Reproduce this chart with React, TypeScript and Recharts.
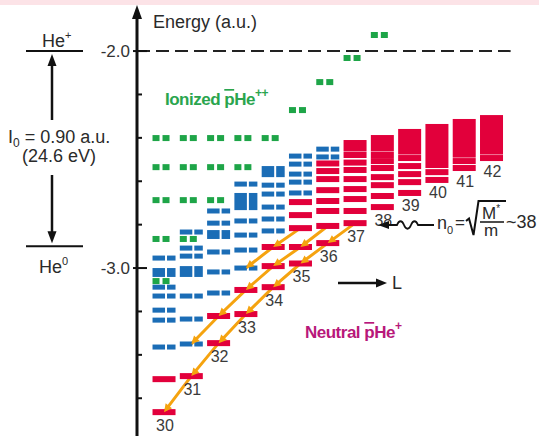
import React from "react";
import { ComposedChart, Scatter, Line, XAxis, YAxis, ReferenceLine } from "recharts";

// chart geometry (plot area starts right of the energy axis)
const W = 539;
const H = 436;
const AXIS_W = 137;
const PLOT_TOP = 12;
const E_MIN = -3.774;
const E_MAX = -1.82;
const N_MIN = 29.01;
const N_MAX = 43.74;
const PX_PER_E = (H - PLOT_TOP) / (E_MAX - E_MIN);
const PX_PER_N = (W - AXIS_W) / (N_MAX - N_MIN);
const yOf = (e: number) => PLOT_TOP + (E_MAX - e) * PX_PER_E;

const RED = "#e2003b";
const BLUE = "#1b6db6";
const GREEN = "#1ea548";
const ORANGE = "#f5a30f";
const INK = "#2a2a2a";
const FONT = "'Liberation Sans', Arial, sans-serif";

type Lv = { n: number; e: number };
const lv = (n: number, ...es: number[]): Lv[] => es.map((e) => ({ n, e }));

// energy axis
const energyTicks = [-2.0, -2.2, -2.4, -2.6, -2.8, -3.0, -3.2, -3.4, -3.6];
const HE_PLUS = -2.0;
const HE_ZERO = -2.9;

// lowest (labelled) state of each column
const circular: Lv[] = [
  { n: 30, e: -3.664 }, { n: 31, e: -3.498 }, { n: 32, e: -3.346 },
  { n: 33, e: -3.212 }, { n: 34, e: -3.088 }, { n: 35, e: -2.979 },
  { n: 36, e: -2.885 }, { n: 37, e: -2.793 }, { n: 38, e: -2.719 },
  { n: 39, e: -2.654 }, { n: 40, e: -2.594 }, { n: 41, e: -2.539 },
  { n: 42, e: -2.493 },
];

// other metastable (neutral) states
const neutral: Lv[] = [
  ...lv(30, -3.512),
  ...lv(32, -3.221),
  ...lv(33, -3.101),
  ...lv(34, -2.991, -2.903),
  ...lv(35, -2.903, -2.816, -2.756, -2.696),
  ...lv(36, -2.806, -2.737, -2.691, -2.641, -2.59, -2.553, -2.518),
  ...lv(37, -2.737, -2.682, -2.636, -2.59, -2.548, -2.514, -2.479),
  ...lv(38, -2.668, -2.618, -2.581, -2.539, -2.507, -2.479),
  ...lv(39, -2.604, -2.567, -2.53, -2.493),
  ...lv(40, -2.558),
  ...lv(41, -2.507),
];

// dense groups drawn as blocks
const neutralBands = [
  { n: 37, top: -2.41, bottom: -2.463 },
  { n: 38, top: -2.387, bottom: -2.463 },
  { n: 39, top: -2.359, bottom: -2.477 },
  { n: 40, top: -2.336, bottom: -2.539 },
  { n: 41, top: -2.313, bottom: -2.491 },
  { n: 42, top: -2.295, bottom: -2.477 },
];

// short-lived (Auger) states
const shortLived: Lv[] = [
  ...lv(30, -2.954, -3.088, -3.129, -3.194, -3.24, -3.364),
  ...lv(31, -2.834, -2.908, -2.945, -3.129, -3.235, -3.35),
  ...lv(32, -2.737, -2.793, -2.926, -3.018, -3.115),
  ...lv(33, -2.613, -2.783, -2.848, -2.917, -3.0),
  ...lv(34, -2.618, -2.659, -2.719, -2.774, -2.829),
  ...lv(35, -2.484, -2.521, -2.567, -2.604, -2.654),
  ...lv(36, -2.452, -2.488),
];

const shortBands = [
  { n: 30, top: -3.0, bottom: -3.041 },
  { n: 31, top: -2.991, bottom: -3.041 },
  { n: 32, top: -2.825, bottom: -2.866 },
  { n: 33, top: -2.654, bottom: -2.733 },
  { n: 34, top: -2.53, bottom: -2.581 },
];

// ionized pHe++ states
const ionized: Lv[] = [
  ...lv(30, -2.401, -2.535, -2.687, -2.866, -3.06),
  ...lv(31, -2.401, -2.535, -2.687, -2.866),
  ...lv(32, -2.401, -2.535, -2.687),
  ...lv(33, -2.401, -2.535),
  ...lv(34, -2.401),
  ...lv(35, -2.272),
  ...lv(36, -2.143),
  ...lv(37, -2.032),
  ...lv(38, -1.926),
];

// radiative cascades (lowest point first)
const cascadeV0: Lv[] = [
  { n: 30, e: -3.664 }, { n: 31, e: -3.498 }, { n: 32, e: -3.346 },
  { n: 33, e: -3.212 }, { n: 34, e: -3.088 }, { n: 35, e: -2.979 },
  { n: 36, e: -2.885 }, { n: 37, e: -2.793 },
];
const cascadeV1: Lv[] = [
  { n: 31, e: -3.35 }, { n: 32, e: -3.221 }, { n: 33, e: -3.101 },
  { n: 34, e: -2.991 }, { n: 35, e: -2.903 }, { n: 36, e: -2.806 },
];
const cascadeV2: Lv[] = [
  { n: 33, e: -3.0 }, { n: 34, e: -2.903 }, { n: 35, e: -2.816 },
];

const withMid = (b: { n: number; top: number; bottom: number }) => ({ ...b, e: (b.top + b.bottom) / 2 });

// ---- shapes ----
const NeutralBar = ({ cx = 0, cy = 0 }: any) => (
  <rect x={cx - 11.5} y={cy - 3} width={23} height={6} fill={RED} />
);

const CircularBar = ({ cx = 0, cy = 0, payload }: any) => (
  <g>
    <rect x={cx - 11.5} y={cy - 3} width={23} height={6} fill={RED} />
    <text x={cx + 1} y={cy + 18.5} textAnchor="middle" fontSize={16} fill="#3a3a3a" fontFamily={FONT}>
      {payload.n}
    </text>
  </g>
);

const ShortBar = ({ cx = 0, cy = 0 }: any) => (
  <g fill={BLUE}>
    <rect x={cx - 11.5} y={cy - 2.5} width={12.5} height={5} />
    <rect x={cx + 3} y={cy - 2.5} width={8.5} height={5} />
  </g>
);

const NeutralBand = ({ cx = 0, cy = 0, payload }: any) => {
  const h = (payload.top - payload.bottom) * PX_PER_E;
  return <rect x={cx - 11.5} y={cy - h / 2} width={23} height={h} fill={RED} />;
};

const ShortBand = ({ cx = 0, cy = 0, payload }: any) => {
  const h = (payload.top - payload.bottom) * PX_PER_E;
  return (
    <g fill={BLUE}>
      <rect x={cx - 11.5} y={cy - h / 2} width={12.5} height={h} />
      <rect x={cx + 3} y={cy - h / 2} width={8.5} height={h} />
    </g>
  );
};

const IonPair = ({ cx = 0, cy = 0 }: any) => (
  <g fill={GREEN}>
    <rect x={cx - 11.5} y={cy - 3} width={7} height={6} />
    <rect x={cx - 1.5} y={cy - 3} width={7} height={6} />
  </g>
);

// arrowhead at every lower end of a cascade step
const decayArrow = (chain: Lv[], tag: string) => (props: any) => {
  const { cx, cy, index } = props;
  const up = chain[index + 1];
  if (!up || cx == null) return <g key={`${tag}-${index}`} />;
  const cur = chain[index];
  const dx = (cur.n - up.n) * PX_PER_N;
  const dy = (up.e - cur.e) * PX_PER_E;
  const a = (Math.atan2(dy, dx) * 180) / Math.PI;
  return (
    <path
      key={`${tag}-${index}`}
      d="M0,0 L-8,-4 L-8,4 Z"
      transform={`translate(${cx},${cy}) rotate(${a})`}
      fill={ORANGE}
    />
  );
};

const EnergyTick = ({ x, y, payload }: any) => {
  const v = payload.value as number;
  const major = Math.abs(v - Math.round(v)) < 1e-6;
  return (
    <g>
      <line x1={major ? x - 4 : x} x2={x + (major ? 10 : 5)} y1={y} y2={y} stroke="#111" strokeWidth={2} />
      {major && (
        <text x={x - 7} y={y + 6} textAnchor="end" fontSize={17} fill="#333" fontFamily={FONT}>
          {v.toFixed(1)}
        </text>
      )}
    </g>
  );
};

function Annotations() {
  const yHp = yOf(HE_PLUS);
  const yH0 = yOf(HE_ZERO);
  return (
    <svg
      width={W}
      height={H}
      style={{ position: "absolute", left: 0, top: 0, pointerEvents: "none" }}
      fontFamily={FONT}
    >
      <rect x={0} y={0} width={W} height={5} fill="#fce3e7" />
      <path d="M137,5 L132,19 L142,19 Z" fill="#111" />
      <text x={153} y={28} fontSize={18} fill={INK}>Energy (a.u.)</text>

      {/* helium atom ionization */}
      <line x1={26} x2={83} y1={yHp} y2={yHp} stroke="#111" strokeWidth={2} />
      <line x1={26} x2={83} y1={yH0} y2={yH0} stroke="#111" strokeWidth={2} />
      <text x={42} y={47} fontSize={18} fill={INK}>
        He<tspan dy={-8} fontSize={11}>+</tspan>
      </text>
      <text x={39} y={273} fontSize={18} fill={INK}>
        He<tspan dy={-8} fontSize={11}>0</tspan>
      </text>
      <line x1={52} x2={52} y1={120} y2={yHp + 12} stroke="#111" strokeWidth={2.5} />
      <path d={`M52,${yHp + 3} L47.5,${yHp + 15} L56.5,${yHp + 15} Z`} fill="#111" />
      <line x1={52} x2={52} y1={175} y2={yH0 - 12} stroke="#111" strokeWidth={2.5} />
      <path d={`M52,${yH0 - 3} L47.5,${yH0 - 15} L56.5,${yH0 - 15} Z`} fill="#111" />
      <text x={8} y={143} fontSize={18} fill={INK}>
        I<tspan dy={4} fontSize={12}>0</tspan>
        <tspan dy={-4}> = 0.90 a.u.</tspan>
      </text>
      <text x={59} y={162} fontSize={18} fill={INK} textAnchor="middle">(24.6 eV)</text>

      {/* series names */}
      <text x={165} y={105} fontSize={17} fontWeight="bold" fill="#2aa54e" letterSpacing={-0.5}>
        Ionized <tspan style={{ textDecoration: "overline" }}>p</tspan>He
        <tspan dy={-8} fontSize={12}>++</tspan>
      </text>
      <text x={305} y={338} fontSize={17} fontWeight="bold" fill="#b8187a" letterSpacing={-0.5}>
        Neutral <tspan style={{ textDecoration: "overline" }}>p</tspan>He
        <tspan dy={-8} fontSize={12}>+</tspan>
      </text>

      {/* L direction */}
      <line x1={338} x2={379} y1={283} y2={283} stroke="#111" strokeWidth={2.5} />
      <path d="M387,283 L376,278.5 L376,287.5 Z" fill="#111" />
      <text x={392} y={289} fontSize={18} fill={INK}>L</text>

      {/* n0 annotation */}
      <path
        d="M434,225 L418,225 C416,220 413,220 411,225 C409,230 406,230 404,225 C402,220 399,220 397,225 L386,225"
        fill="none"
        stroke="#111"
        strokeWidth={1.8}
      />
      <path d="M378,225 L389,221 L389,229 Z" fill="#111" />
      <text x={437} y={229} fontSize={18} fill={INK}>n</text>
      <text x={447} y={234} fontSize={11} fill={INK}>0</text>
      <text x={455} y={228} fontSize={17} fill={INK}>=</text>
      <path d="M466,221 L469,218.5 L473.5,235 L478.5,201 L506,201" fill="none" stroke="#111" strokeWidth={2} />
      <text x={482} y={219} fontSize={17} fill={INK}>
        M<tspan dy={-7} fontSize={10}>*</tspan>
      </text>
      <line x1={480} x2={504} y1={222} y2={222} stroke="#111" strokeWidth={1.5} />
      <text x={484} y={236} fontSize={17} fill={INK}>m</text>
      <text x={506} y={228} fontSize={18} fill={INK}>~38</text>
    </svg>
  );
}

export default function App() {
  return (
    <div style={{ position: "relative", width: W, height: H, overflow: "hidden", background: "#fff" }}>
      <style>{`body{margin:0}`}</style>
      <ComposedChart width={W} height={H} margin={{ top: PLOT_TOP, right: 0, bottom: 0, left: 0 }}>
        <XAxis type="number" dataKey="n" domain={[N_MIN, N_MAX]} allowDataOverflow hide />
        <YAxis
          type="number"
          dataKey="e"
          domain={[E_MIN, E_MAX]}
          allowDataOverflow
          ticks={energyTicks}
          interval={0}
          width={AXIS_W}
          tickSize={0}
          tickMargin={0}
          tickLine={false}
          axisLine={{ stroke: "#111", strokeWidth: 3 }}
          tick={<EnergyTick />}
        />
        <ReferenceLine
          segment={[{ x: N_MIN, y: HE_PLUS }, { x: 42.7, y: HE_PLUS }]}
          stroke="#222"
          strokeWidth={2}
          strokeDasharray="13 6"
        />
        <Scatter data={shortLived} dataKey="e" shape={<ShortBar />} isAnimationActive={false} />
        <Scatter data={shortBands.map(withMid)} dataKey="e" shape={<ShortBand />} isAnimationActive={false} />
        <Scatter data={neutral} dataKey="e" shape={<NeutralBar />} isAnimationActive={false} />
        <Scatter data={neutralBands.map(withMid)} dataKey="e" shape={<NeutralBand />} isAnimationActive={false} />
        <Scatter data={circular} dataKey="e" shape={<CircularBar />} isAnimationActive={false} />
        <Scatter data={ionized} dataKey="e" shape={<IonPair />} isAnimationActive={false} />
        {[
          { data: cascadeV0, tag: "v0" },
          { data: cascadeV1, tag: "v1" },
          { data: cascadeV2, tag: "v2" },
        ].map(({ data, tag }) => (
          <Line
            key={tag}
            data={data}
            dataKey="e"
            type="linear"
            stroke={ORANGE}
            strokeWidth={3}
            dot={decayArrow(data, tag)}
            activeDot={false}
            isAnimationActive={false}
          />
        ))}
      </ComposedChart>
      <Annotations />
    </div>
  );
}
